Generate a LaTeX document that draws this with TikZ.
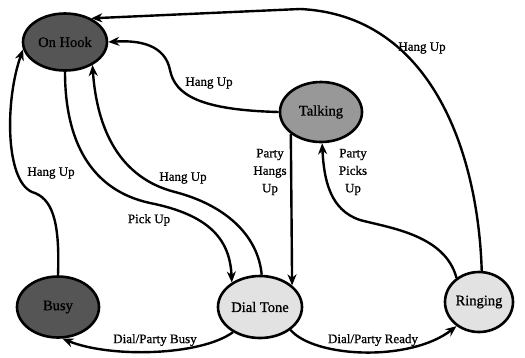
\documentclass[tikz,border=0pt]{standalone}
\usepackage{fontspec}
\setmainfont{Liberation Serif}[FakeBold=0.8]
\usetikzlibrary{shapes.geometric,arrows.meta}
\definecolor{darkstate}{RGB}{85,85,85}
\definecolor{midstate}{RGB}{152,152,152}
\definecolor{lightstate}{RGB}{226,226,226}
\tikzset{
  state/.style={ellipse,draw=black,line width=2.6pt,inner sep=0pt,
    font=\fontsize{14.5}{16}\selectfont},
  trans/.style={line width=2.4pt,-{Stealth[length=11pt,width=9pt,inset=3.5pt]}},
  lbl/.style={font=\fontsize{13}{17.5}\selectfont,align=center,inner sep=0pt}
}
\begin{document}
\begin{tikzpicture}[x=1pt,y=-1pt]
\useasboundingbox[fill=white] (0,0) rectangle (525,357);

% states
\node[state,fill=darkstate,minimum width=84pt,minimum height=57pt] (onhook) at (65,42) {On Hook};
\node[state,fill=midstate,minimum width=82pt,minimum height=60pt] (talking) at (321,112) {Talking};
\node[state,fill=darkstate,minimum width=82pt,minimum height=61pt] (busy) at (58,307) {Busy};
\node[state,fill=lightstate,minimum width=84pt,minimum height=62pt] (dial) at (260,307) {Dial Tone};
\node[state,fill=lightstate,minimum width=68pt,minimum height=60pt] (ring) at (479,302) {Ringing};

% transitions
\draw[trans] (ring.85) .. controls (478,150) and (430,15) .. (300,9) -- (onhook.42);
\draw[trans] (talking.west) .. controls (200,110) and (175,95) .. (170,70)
  .. controls (165,45) and (140,40) .. (onhook.east);
\draw[trans] (talking.216) -- (dial.34);
\draw[trans] (ring.133) .. controls (445,235) and (390,228) .. (360,220)
  .. controls (330,210) and (324,180) .. (talking.-88);
\draw[trans] (onhook.south) .. controls (65,140) and (90,190) .. (150,203)
  .. controls (210,215) and (230,240) .. (dial.139);
\draw[trans] (dial.87) .. controls (258,235) and (225,205) .. (175,192)
  .. controls (120,178) and (97,130) .. (onhook.-40);
\draw[trans] (busy.north) .. controls (60,220) and (52,198) .. (32,192)
  .. controls (5,180) and (5,100) .. (onhook.190);
\draw[trans] (dial.223) .. controls (200,356) and (110,358) .. (busy.-82);
\draw[trans] (dial.-37) .. controls (315,358) and (410,362) .. (ring.227);

% transition labels
\node[lbl] (l1) at (422,48) {Hang Up};
\node[lbl] (l2) at (209,83) {Hang Up};
\node[lbl] (l3) at (270,172) {Party\\Hangs\\Up};
\node[lbl] (l4) at (353,172) {Party\\Picks\\Up};
\node[lbl] (l5) at (149,220) {Pick Up};
\node[lbl] (l6) at (183,178) {Hang Up};
\node[lbl] (l7) at (51,173) {Hang Up};
\node[lbl] (l8) at (155,340) {Dial/Party Busy};
\node[lbl] (l9) at (373,340) {Dial/Party Ready};
\end{tikzpicture}
\end{document}
